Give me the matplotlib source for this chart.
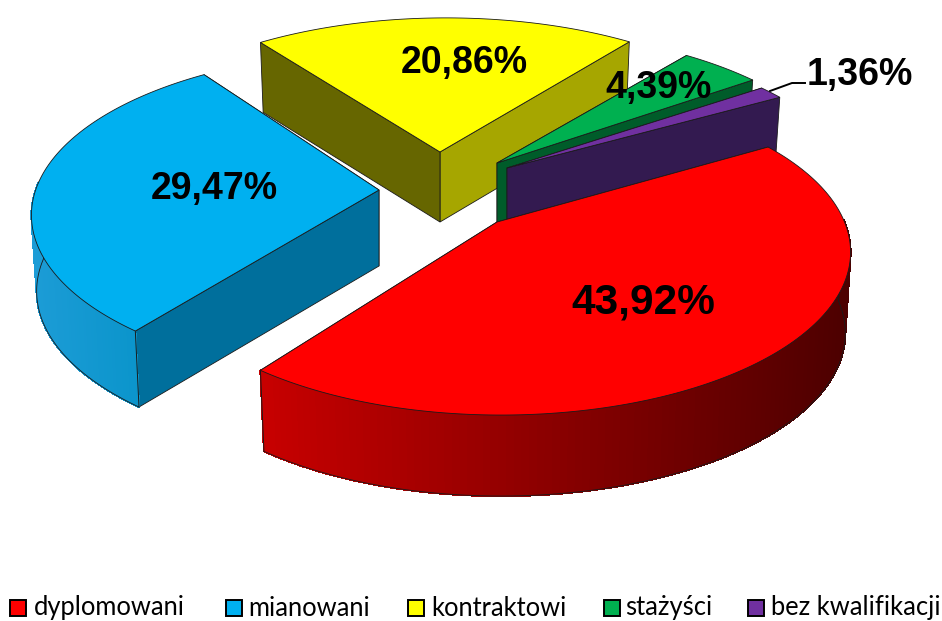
import numpy as np
import matplotlib
matplotlib.use('Agg')
import matplotlib.pyplot as plt
from matplotlib.colors import to_rgb
from matplotlib.patches import Rectangle

names = ['dyplomowani', 'mianowani', 'kontraktowi', 'stażyści', 'bez kwalifikacji']
values = [43.92, 29.47, 20.86, 4.39, 1.36]
labels = ['43,92%', '29,47%', '20,86%', '4,39%', '1,36%']

top_colors = ['#ff0000', '#00b0f0', '#ffff00', '#00b050', '#7030a0']
face_first = ['#800000', '#006f9c', '#666600', '#005c2a', '#331a50']
face_last = ['#800000', '#006f9c', '#a6a600', '#005c2a', '#331a50']
wall_left = ['#c80000', '#1c9cd6', '#a6a600', '#005c2a', '#331a50']
wall_right = ['#4c0000', '#0090c4', '#a6a600', '#005c2a', '#331a50']

# layout of the exploded slices, in pixels
apex = [(497, 222), (379, 190), (440, 152), (497, 163), (507, 168)]
depth = [81, 76, 70, 60, 60]
radius = [0.99, 0.99, 1.0, 1.0, 1.0]
arc_shift = [(4, 0), (2, -5), (6, 0), (4, 2), (3, 5)]
rotate = [0, -1, 0.5, 0, 0]
label_xy = [(643, 302), (214, 189), (464, 63), (659, 88), (860, 75)]
label_size = [30.5, 27, 27, 27, 27]
legend_x = [10, 226, 408, 604, 748]
text_x = [34, 248, 431, 625, 771]

A = 347      # half width of the pie
squash = 0.458
persp = 0.185
shrink = 0.985
start = 31.5


def rim(theta, r):
    s = np.sin(theta)
    f = 1 / (1 + persp * s)
    return A * r * np.cos(theta) * f, -A * squash * r * s * f


def mix(c0, c1, t):
    a, b = np.array(to_rgb(c0)), np.array(to_rgb(c1))
    return tuple(a + (b - a) * t)


fig = plt.figure(figsize=(9.42, 6.21), dpi=100)
ax = fig.add_axes([0, 0, 1, 1])
ax.set_xlim(0, 942)
ax.set_ylim(621, 0)
ax.axis('off')

edges = np.cumsum([0] + values) * 3.6
line = '#1a1a1a'
z = 1

for i in [2, 1, 3, 4, 0]:
    th = np.radians(np.linspace(start + rotate[i] - edges[i], start + rotate[i] - edges[i + 1], 150))
    ox, oy = apex[i]
    dx, dy = rim(th, radius[i])
    dx, dy = dx + arc_shift[i][0], dy + arc_shift[i][1]
    tx, ty = ox + dx, oy + dy
    bx, by = ox + dx * shrink, oy + dy + depth[i]
    bo = (ox, oy + depth[i])

    # the two cut faces, the one further back first
    ends = [(0, face_first[i]), (-1, face_last[i])]
    ends.sort(key=lambda e: ty[e[0]])
    for k, (e, c) in enumerate(ends):
        ax.fill([ox, tx[e], bx[e], bo[0]], [oy, ty[e], by[e], bo[1]],
                color=c, ec=line, lw=0.6, zorder=z + k)

    # outer wall, in thin strips for the shading, only the side facing us
    front = np.sin(th) < 0.02
    if front.any():
        for j in range(len(th) - 1):
            if not (front[j] and front[j + 1]):
                continue
            t = (tx[j] - tx.min()) / (tx.max() - tx.min())
            c = mix(wall_left[i], wall_right[i], t)
            ax.fill([tx[j], tx[j + 1], bx[j + 1], bx[j]], [ty[j], ty[j + 1], by[j + 1], by[j]],
                    color=c, ec=c, lw=0.8, antialiased=False, zorder=z + 2)
        ax.plot(bx[front], by[front], color=line, lw=0.6, zorder=z + 3)
        # the two ends of the visible wall
        idx = np.flatnonzero(front)
        for e in (idx[0], idx[-1]):
            ax.plot([tx[e], bx[e]], [ty[e], by[e]], color=line, lw=0.7, zorder=z + 3)

    # top surface
    ax.fill(np.r_[ox, tx], np.r_[oy, ty], color=top_colors[i], ec=line, lw=0.6, zorder=z + 4)
    z += 5

ax.plot([770, 792, 805], [91, 83, 83], color='black', lw=1.4, zorder=z)

for lab, (x, y), size in zip(labels, label_xy, label_size):
    ax.text(x, y, lab, ha='center', va='center', fontsize=size, fontweight='bold',
            family='Liberation Sans', color='black', zorder=z + 1)

for name, c, sx, lx in zip(names, top_colors, legend_x, text_x):
    ax.add_patch(Rectangle((sx, 600), 16, 16, fc=c, ec='black', lw=1.4))
    ax.text(lx, 608, name, ha='left', va='center', fontsize=18.4, family='Lato', color='black')

plt.savefig('out.png', dpi=100)
